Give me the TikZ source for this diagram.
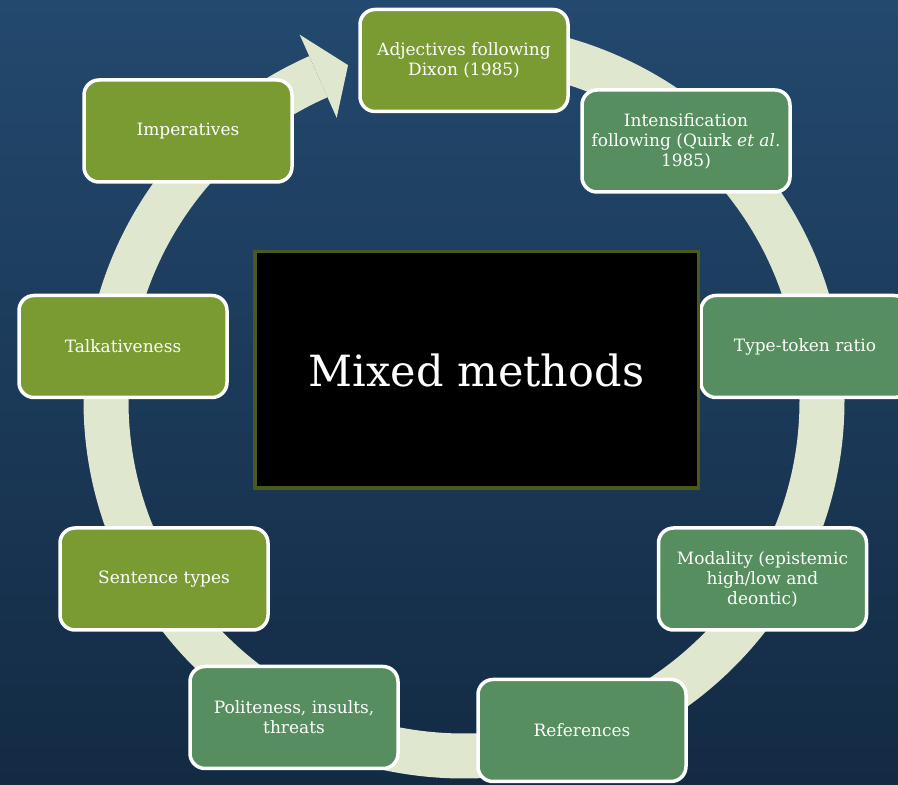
\documentclass[tikz,border=0pt]{standalone}
\usepackage{fontspec}
\setmainfont{DejaVu Serif}
\definecolor{olivebox}{HTML}{7A9A32}
\definecolor{seabox}{HTML}{568E5F}
\definecolor{ringcol}{HTML}{DFE8CF}
\definecolor{bgtop}{HTML}{23496E}
\definecolor{bgbot}{HTML}{132A43}
\definecolor{midframe}{HTML}{4B5A1C}
\begin{document}
\begin{tikzpicture}[x=1pt,y=1pt,
	item/.style={draw=white,line width=3.5pt,rounded corners=15pt,minimum width=208pt,minimum height=102pt,inner sep=0pt,align=center,text=white,font=\fontsize{17}{20}\selectfont},
	olive/.style={item,fill=olivebox},
	sea/.style={item,fill=seabox}]
				\useasboundingbox (0,0) rectangle (898,785);
				\clip (0,0) rectangle (898,785);
				\shade[top color=bgtop,bottom color=bgbot] (0,0) rectangle (898,785);
				\coordinate (c) at (464,384);
				\draw[ringcol,line width=45pt] ([shift={(c)}]90:358 and 355) arc[start angle=90,end angle=-246,x radius=358,y radius=355];
				\fill[ringcol] ([shift={(c)}]114:404 and 401) -- ([shift={(c)}]108.9:358 and 355) -- ([shift={(c)}]114:313 and 310) -- cycle;
				\node[olive] (adj) at (464,724.5) {Adjectives following\\Dixon (1985)};
				\node[sea] (int) at (686,644) {Intensification\\following (Quirk \emph{et al}.\\1985)};
				\node[sea] (ttr) at (805,438.5) {Type-token ratio};
				\node[sea] (mod) at (762.5,206) {Modality (epistemic\\high/low and\\deontic)};
				\node[sea] (ref) at (582,54.5) {References};
				\node[sea] (pol) at (294,67.5) {Politeness, insults,\\threats};
				\node[olive] (sen) at (164,206) {Sentence types};
				\node[olive] (tal) at (123,438.5) {Talkativeness};
				\node[olive] (imp) at (188,654) {Imperatives};
				\node[draw=midframe,fill=black,line width=3.5pt,minimum width=443.5pt,minimum height=236.5pt,inner sep=0pt,text=white,font=\fontsize{43}{50}\selectfont] (mix) at (476.5,415) {Mixed methods};
			\end{tikzpicture}
\end{document}
